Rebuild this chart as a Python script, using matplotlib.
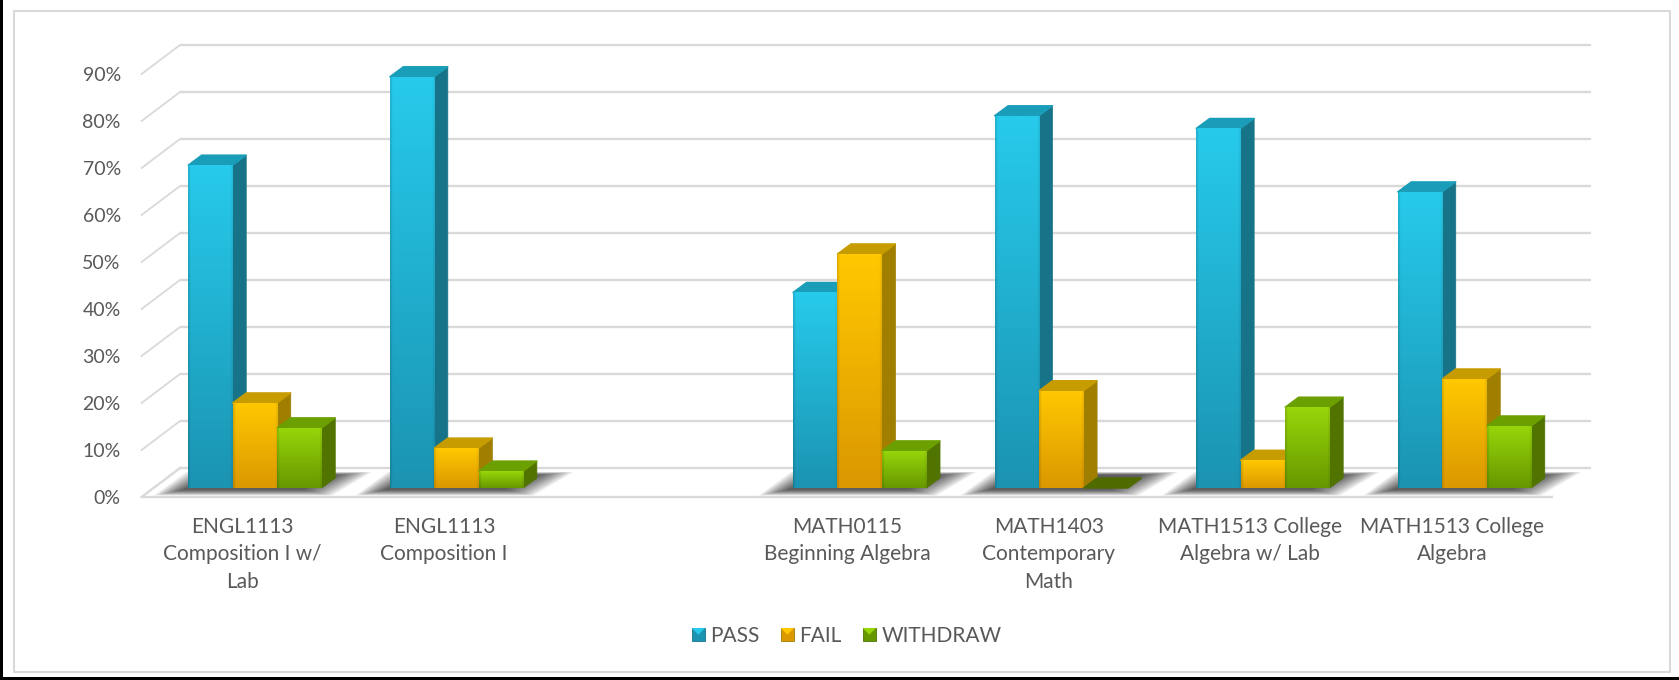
import numpy as np
import matplotlib
matplotlib.use("Agg")
import matplotlib.pyplot as plt
from matplotlib.legend_handler import HandlerBase
from matplotlib.patches import Patch, Polygon, Rectangle

plt.rcParams["font.family"] = ["Lato", "DejaVu Sans"]

# -------------------------------------------------
# DATA
# -------------------------------------------------
courses = [
    "ENGL1113\nComposition I w/\nLab",
    "ENGL1113\nComposition I",
    "",
    "MATH0115\nBeginning Algebra",
    "MATH1403\nContemporary\nMath",
    "MATH1513 College\nAlgebra w/ Lab",
    "MATH1513 College\nAlgebra",
]
pass_pct = [68.7, 87.5, None, 41.6, 79.2, 76.5, 63.0]
fail_pct = [18.1, 8.5, None, 49.8, 20.7, 5.9, 23.2]
withdraw_pct = [12.8, 3.6, None, 7.9, 0.0, 17.2, 13.2]
y_ticks = [0, 10, 20, 30, 40, 50, 60, 70, 80, 90]

# name, front top, front bottom, side, top
styles = [
    ("PASS", "#27CAEB", "#1B94B2", "#177488", "#1A9DB8"),
    ("FAIL", "#FFC800", "#DB9800", "#A07E00", "#C79C00"),
    ("WITHDRAW", "#98D60A", "#679800", "#517300", "#6C9F00"),
]

W, H = 1679, 680
PX_X = 1 / 201.5   # category units per pixel
PX_Y = 10 / 47     # percent per pixel

BAR_W = 44.5 * PX_X
BAR_DX, BAR_DY = 12.6 * PX_X, 9 * PX_Y      # bars stand behind the front edge
SIDE_DX, SIDE_DY = 13.5 * PX_X, 10 * PX_Y   # depth of a bar
BACK_DX, BACK_DY = 38.4 * PX_X, 29 * PX_Y   # depth of the floor
GRID = "#D9D9D9"
TEXT = "#595959"


def gradient(top, bottom):
    top = np.array(matplotlib.colors.to_rgb(top))
    bottom = np.array(matplotlib.colors.to_rgb(bottom))
    t = np.linspace(0, 1, 40)[:, None, None]
    img = np.repeat((1 - t) * top[None, None, :] + t * bottom[None, None, :], 24, axis=1)
    img[:, 0] *= 0.88
    img[:, -1] *= 0.93
    return img


def draw_bar(ax, x, value, style, z):
    _, c_top, c_bottom, c_side, c_roof = style
    y0 = BAR_DY
    y1 = BAR_DY + value
    x1 = x + BAR_W
    if value > 0:
        ax.add_patch(Polygon(
            [(x1, y0), (x1 + SIDE_DX, y0 + SIDE_DY), (x1 + SIDE_DX, y1 + SIDE_DY), (x1, y1)],
            fc=c_side, ec=c_side, lw=0.5, joinstyle="round", zorder=z, clip_on=False))
    ax.add_patch(Polygon(
        [(x, y1), (x1, y1), (x1 + SIDE_DX, y1 + SIDE_DY), (x + SIDE_DX, y1 + SIDE_DY)],
        fc=c_roof if value > 0 else "#4F6B00", ec=c_roof if value > 0 else "#4F6B00",
        lw=1, joinstyle="round", zorder=z, clip_on=False))
    if value > 0:
        rect = ax.bar(x, value, BAR_W, bottom=y0, align="edge", color=c_bottom, zorder=z + 0.1)[0]
        im = ax.imshow(gradient(c_top, c_bottom), extent=(x, x1, y0, y1), aspect="auto",
                       interpolation="bilinear", zorder=z + 0.2)
        im.set_clip_path(rect)


def draw_shadow(ax, x0, x1):
    # soft shadow on the floor, built from stacked translucent shapes
    for k in range(14):
        t = k * 2.2
        pts = [
            (x0 + (-34 + t) * PX_X, (-7.5 + t * 0.2) * PX_Y),
            (x1 + (10 - t) * PX_X, (-7.5 + t * 0.2) * PX_Y),
            (x1 + (50 - t * 1.2) * PX_X, (16 - t * 0.1) * PX_Y),
            (x0 + (-2 + t) * PX_X, (16 - t * 0.1) * PX_Y),
        ]
        pts = [(px, py + BAR_DY) for px, py in pts]
        ax.add_patch(Polygon(pts, fc="black", ec="none", alpha=0.065, zorder=2, clip_on=False))


class BevelHandler(HandlerBase):
    def create_artists(self, legend, orig, xd, yd, width, height, fontsize, trans):
        _, c_top, c_bottom, c_side, _ = orig.style
        s = 13.5 * 0.72
        x0 = -xd + width - s
        y0 = -yd + (height - s) / 2
        base = Rectangle((x0, y0), s, s, fc=c_bottom, ec=c_side, lw=0.6, transform=trans)
        roof = Polygon([(x0, y0 + s), (x0 + s, y0 + s), (x0 + s / 2, y0 + s / 2)],
                       fc=c_top, ec="none", transform=trans)
        return [base, roof]


# -------------------------------------------------
# PLOT
# -------------------------------------------------
fig = plt.figure(figsize=(W / 100, H / 100), dpi=100)
ax = fig.add_axes([141.6 / W, (H - 497) / H, 1411.1 / W, 423 / H])
ax.patch.set_visible(False)

# grid on the back wall and the left wall
for v in y_ticks:
    ax.plot([-0.5 + BACK_DX, 6.5 + BACK_DX], [v + BACK_DY, v + BACK_DY],
            color=GRID, lw=1.7, zorder=1, clip_on=False, solid_capstyle="butt")
    if v > 0:
        ax.plot([-0.5, -0.5 + BACK_DX], [v, v + BACK_DY],
                color=GRID, lw=1.3, zorder=1, clip_on=False)
ax.plot([-0.5, -0.5 + BACK_DX], [0, BACK_DY], color=GRID, lw=1.7, zorder=1, clip_on=False)

series = [pass_pct, fail_pct, withdraw_pct]
z = 5
for i in range(len(courses)):
    if pass_pct[i] is None:
        continue
    left = i + BAR_DX - 1.5 * BAR_W
    draw_shadow(ax, left, left + 3 * BAR_W)
    for j, values in enumerate(series):
        draw_bar(ax, left + j * BAR_W, values[i], styles[j], z)
        z += 1

ax.plot([-0.5, 6.5], [0, 0], color=GRID, lw=1.7, zorder=3, clip_on=False, solid_capstyle="butt")

ax.set_xlim(-0.5, 6.5)
ax.set_ylim(0, 90)
ax.set_xticks(range(len(courses)), courses)
ax.set_yticks(y_ticks, [f"{v}%" for v in y_ticks])
ax.tick_params(axis="x", length=0, pad=14.5, labelsize=15, labelcolor=TEXT)
ax.tick_params(axis="y", length=0, pad=15, labelsize=14, labelcolor=TEXT)
for label in ax.get_xticklabels():
    label.set_linespacing(1.45)
for spine in ax.spines.values():
    spine.set_visible(False)

handles = []
for s in styles:
    h = Patch(label=s[0])
    h.style = s
    handles.append(h)
ax.legend(handles=handles, loc="center", bbox_to_anchor=(846.5 / W, (H - 636) / H),
          bbox_transform=fig.transFigure, ncol=3, frameon=False, fontsize=15,
          labelcolor=TEXT, handler_map={Patch: BevelHandler()}, handlelength=0.65,
          handletextpad=0.25, columnspacing=1.0)

# chart frame and the black edge of the screenshot
fig.add_artist(Rectangle((14 / W, (H - 672) / H), 1656 / W, 661 / H, fill=False, ec=GRID, lw=1.5,
                         transform=fig.transFigure))
fig.add_artist(Rectangle((0, 0), 3 / W, 1, fc="black", ec="none", transform=fig.transFigure))
fig.add_artist(Rectangle((0, 0), 1, 3 / H, fc="black", ec="none", transform=fig.transFigure))

fig.savefig("out.png", dpi=100, facecolor="white")
